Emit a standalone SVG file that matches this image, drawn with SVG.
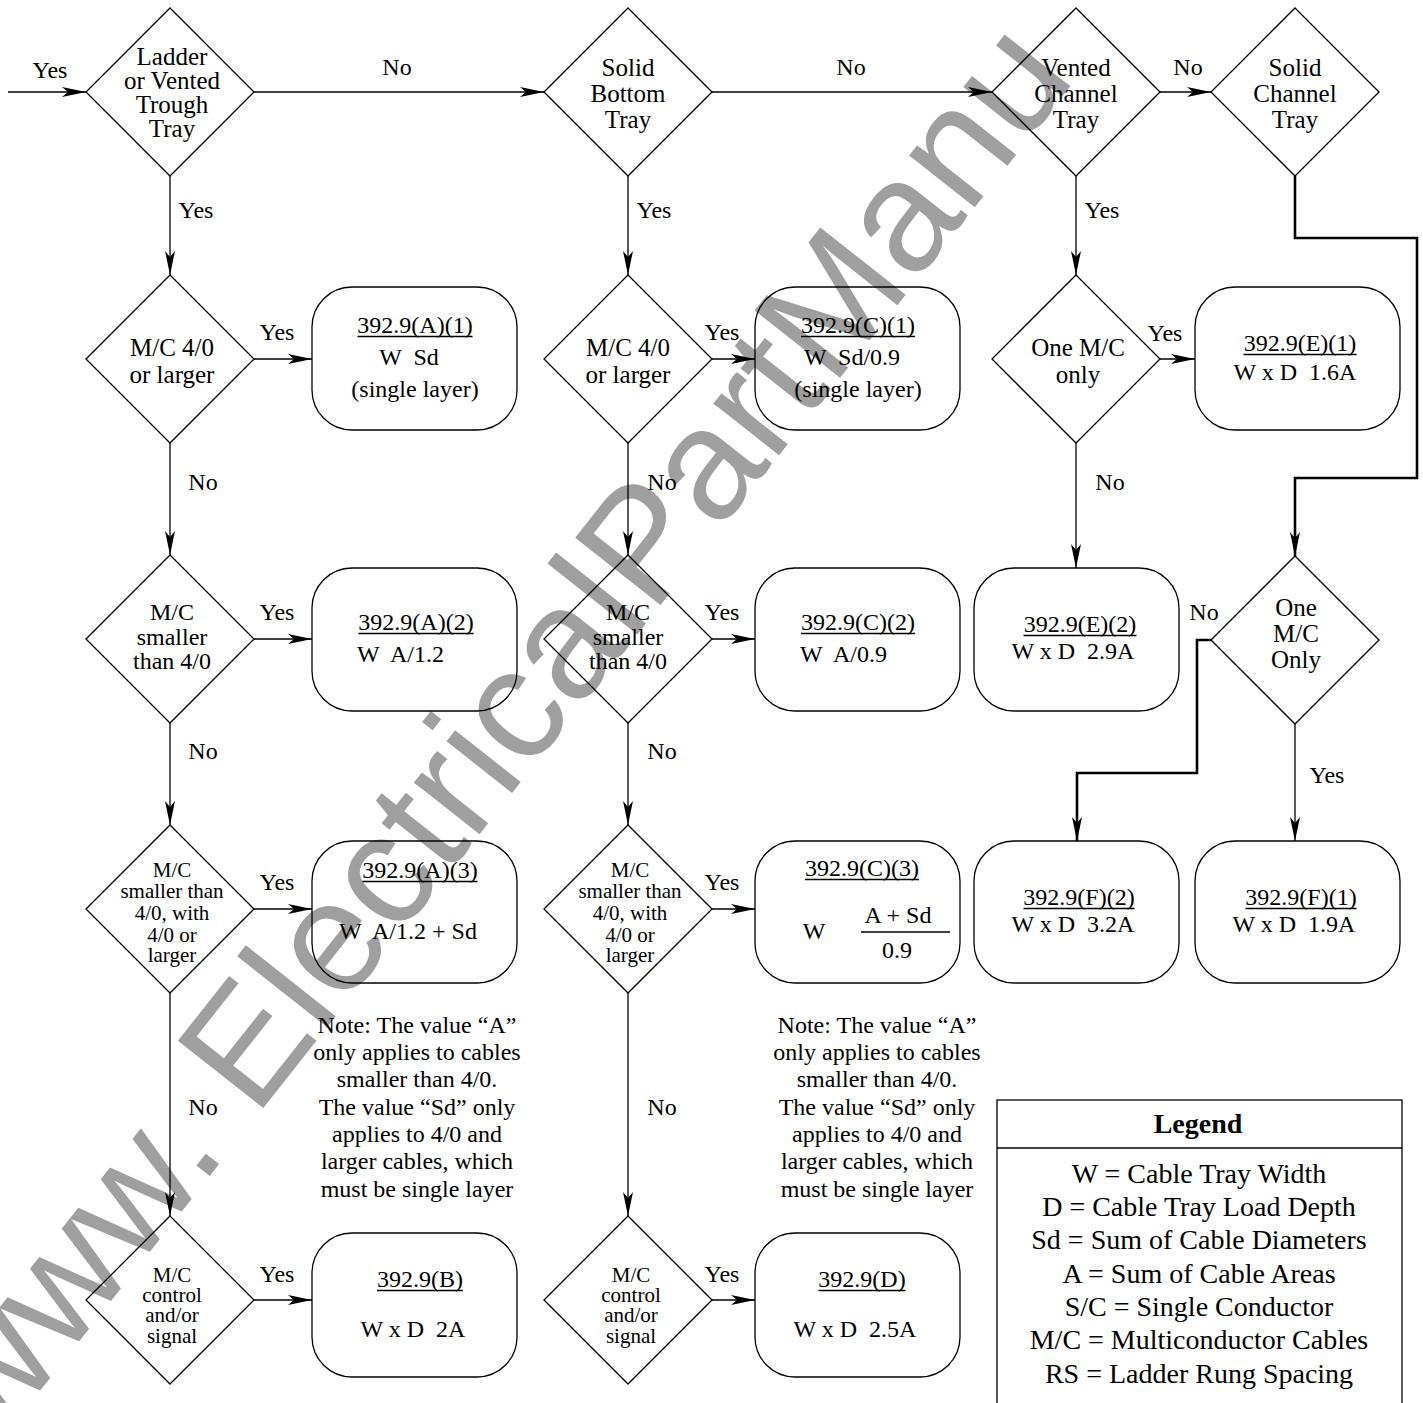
<svg xmlns="http://www.w3.org/2000/svg" width="1423" height="1403" viewBox="0 0 1423 1403">
<style>
.t{font-family:"Liberation Serif","Times New Roman",serif;font-size:24px;fill:#000;text-anchor:middle;white-space:pre}
.d{font-size:25px}
.s{font-size:21px}
.st{text-anchor:start}
.lg{font-size:28px}
.b{font-weight:bold}
.node{fill:none;stroke:#000;stroke-width:1.3}
.c{fill:none;stroke:#000;stroke-width:1.3}
.ct{stroke-width:2.6}
.ul{stroke:#000;stroke-width:1.5}
.wm{font-family:"Liberation Sans",Arial,sans-serif;font-size:158px;fill:#9f9f9f}
</style>
<defs>
<marker id="ah" viewBox="0 0 24 10" refX="24" refY="5" markerWidth="24" markerHeight="10" markerUnits="userSpaceOnUse" orient="auto">
<path d="M0,0 L24,5 L0,10 L6,5 Z" fill="#000"/>
</marker>
</defs>
<rect width="1423" height="1403" fill="#fff"/>
<g id="watermark">
<text class="wm" transform="translate(-6,1449) rotate(-51.7)">www. ElectricalPartManu</text>
</g>
<g id="connectors">
<path class="c" d="M8,92 H86" marker-end="url(#ah)"/>
<path class="c" d="M254,92 H544" marker-end="url(#ah)"/>
<path class="c" d="M712,92 H992" marker-end="url(#ah)"/>
<path class="c" d="M1160,92 H1211" marker-end="url(#ah)"/>
<path class="c" d="M170,176 V275" marker-end="url(#ah)"/>
<path class="c" d="M170,443 V555" marker-end="url(#ah)"/>
<path class="c" d="M170,723 V825" marker-end="url(#ah)"/>
<path class="c" d="M170,993 V1216" marker-end="url(#ah)"/>
<path class="c" d="M254,359 H312" marker-end="url(#ah)"/>
<path class="c" d="M254,639 H312" marker-end="url(#ah)"/>
<path class="c" d="M254,909 H312" marker-end="url(#ah)"/>
<path class="c" d="M254,1300 H312" marker-end="url(#ah)"/>
<path class="c" d="M628,176 V275" marker-end="url(#ah)"/>
<path class="c" d="M628,443 V555" marker-end="url(#ah)"/>
<path class="c" d="M628,723 V825" marker-end="url(#ah)"/>
<path class="c" d="M628,993 V1216" marker-end="url(#ah)"/>
<path class="c" d="M712,359 H755" marker-end="url(#ah)"/>
<path class="c" d="M712,639 H755" marker-end="url(#ah)"/>
<path class="c" d="M712,909 H755" marker-end="url(#ah)"/>
<path class="c" d="M712,1300 H755" marker-end="url(#ah)"/>
<path class="c" d="M1076,176 V275" marker-end="url(#ah)"/>
<path class="c" d="M1160,359 H1195" marker-end="url(#ah)"/>
<path class="c" d="M1076,443 V568" marker-end="url(#ah)"/>
<path class="c ct" d="M1295,176 V238 H1417 V478 H1295 V556" marker-end="url(#ah)"/>
<path class="c" d="M1295,724 V841" marker-end="url(#ah)"/>
<path class="c ct" d="M1211,640 H1197 V773 H1077 V841" marker-end="url(#ah)"/>
<g id="connector-labels">
<text class="t" x="50" y="78">Yes</text>
<text class="t" x="397" y="75">No</text>
<text class="t" x="851" y="75">No</text>
<text class="t" x="1188" y="75">No</text>
<text class="t" x="196" y="218">Yes</text>
<text class="t" x="654" y="218">Yes</text>
<text class="t" x="1102" y="218">Yes</text>
<text class="t" x="277" y="340">Yes</text>
<text class="t" x="722" y="340">Yes</text>
<text class="t" x="1165" y="341">Yes</text>
<text class="t" x="203" y="490">No</text>
<text class="t" x="662" y="490">No</text>
<text class="t" x="1110" y="490">No</text>
<text class="t" x="277" y="620">Yes</text>
<text class="t" x="722" y="620">Yes</text>
<text class="t" x="1204" y="620">No</text>
<text class="t" x="203" y="759">No</text>
<text class="t" x="662" y="759">No</text>
<text class="t" x="1327" y="783">Yes</text>
<text class="t" x="277" y="890">Yes</text>
<text class="t" x="722" y="890">Yes</text>
<text class="t" x="203" y="1115">No</text>
<text class="t" x="662" y="1115">No</text>
<text class="t" x="277" y="1282">Yes</text>
<text class="t" x="722" y="1282">Yes</text>
</g>
</g>
<g id="d-ladder">
<path class="node" d="M170,8 L254,92 L170,176 L86,92 Z"/>
<text class="t d" x="172" y="65">Ladder</text>
<text class="t d" x="172" y="89">or Vented</text>
<text class="t d" x="172" y="113">Trough</text>
<text class="t d" x="172" y="137">Tray</text>
</g>
<g id="d-solid-bottom">
<path class="node" d="M628,8 L712,92 L628,176 L544,92 Z"/>
<text class="t d" x="628" y="76">Solid</text>
<text class="t d" x="628" y="102">Bottom</text>
<text class="t d" x="628" y="128">Tray</text>
</g>
<g id="d-vented-channel">
<path class="node" d="M1076,8 L1160,92 L1076,176 L992,92 Z"/>
<text class="t d" x="1076" y="76">Vented</text>
<text class="t d" x="1076" y="102">Channel</text>
<text class="t d" x="1076" y="128">Tray</text>
</g>
<g id="d-solid-channel">
<path class="node" d="M1295,8 L1379,92 L1295,176 L1211,92 Z"/>
<text class="t d" x="1295" y="76">Solid</text>
<text class="t d" x="1295" y="102">Channel</text>
<text class="t d" x="1295" y="128">Tray</text>
</g>
<g id="d-a1">
<path class="node" d="M170,275 L254,359 L170,443 L86,359 Z"/>
<text class="t d" x="172" y="356">M/C 4/0</text>
<text class="t d" x="172" y="383">or larger</text>
</g>
<g id="d-c1">
<path class="node" d="M628,275 L712,359 L628,443 L544,359 Z"/>
<text class="t d" x="628" y="356">M/C 4/0</text>
<text class="t d" x="628" y="383">or larger</text>
</g>
<g id="d-e1">
<path class="node" d="M1076,275 L1160,359 L1076,443 L992,359 Z"/>
<text class="t d" x="1078" y="356">One M/C</text>
<text class="t d" x="1078" y="383">only</text>
</g>
<g id="d-a2">
<path class="node" d="M170,555 L254,639 L170,723 L86,639 Z"/>
<text class="t" x="172" y="620">M/C</text>
<text class="t" x="172" y="645">smaller</text>
<text class="t" x="172" y="669">than 4/0</text>
</g>
<g id="d-c2">
<path class="node" d="M628,555 L712,639 L628,723 L544,639 Z"/>
<text class="t" x="628" y="620">M/C</text>
<text class="t" x="628" y="645">smaller</text>
<text class="t" x="628" y="669">than 4/0</text>
</g>
<g id="d-f">
<path class="node" d="M1295,556 L1379,640 L1295,724 L1211,640 Z"/>
<text class="t d" x="1296" y="616">One</text>
<text class="t d" x="1296" y="642">M/C</text>
<text class="t d" x="1296" y="668">Only</text>
</g>
<g id="d-a3">
<path class="node" d="M170,825 L254,909 L170,993 L86,909 Z"/>
<text class="t s" x="172" y="877">M/C</text>
<text class="t s" x="172" y="898">smaller than</text>
<text class="t s" x="172" y="920">4/0, with</text>
<text class="t s" x="172" y="942">4/0 or</text>
<text class="t s" x="172" y="962">larger</text>
</g>
<g id="d-c3">
<path class="node" d="M628,825 L712,909 L628,993 L544,909 Z"/>
<text class="t s" x="630" y="877">M/C</text>
<text class="t s" x="630" y="898">smaller than</text>
<text class="t s" x="630" y="920">4/0, with</text>
<text class="t s" x="630" y="942">4/0 or</text>
<text class="t s" x="630" y="962">larger</text>
</g>
<g id="d-b">
<path class="node" d="M170,1216 L254,1300 L170,1384 L86,1300 Z"/>
<text class="t s" x="172" y="1282">M/C</text>
<text class="t s" x="172" y="1302">control</text>
<text class="t s" x="172" y="1322">and/or</text>
<text class="t s" x="172" y="1343">signal</text>
</g>
<g id="d-d">
<path class="node" d="M628,1216 L712,1300 L628,1384 L544,1300 Z"/>
<text class="t s" x="631" y="1282">M/C</text>
<text class="t s" x="631" y="1302">control</text>
<text class="t s" x="631" y="1322">and/or</text>
<text class="t s" x="631" y="1343">signal</text>
</g>
<g id="b-a1">
<rect class="node" x="312" y="287" width="205" height="143" rx="40"/>
<text class="t" x="415" y="333">392.9(A)(1)</text>
<line class="ul" x1="357.5" y1="336.5" x2="472.5" y2="336.5"/>
<text class="t" x="409" y="365">W  Sd</text>
<text class="t" x="415" y="397">(single layer)</text>
</g>
<g id="b-c1">
<rect class="node" x="755" y="287" width="205" height="143" rx="40"/>
<text class="t" x="858" y="333">392.9(C)(1)</text>
<line class="ul" x1="801" y1="336.5" x2="915" y2="336.5"/>
<text class="t" x="852" y="365">W  Sd/0.9</text>
<text class="t" x="858" y="397">(single layer)</text>
</g>
<g id="b-e1">
<rect class="node" x="1195" y="287" width="205" height="143" rx="40"/>
<text class="t" x="1300" y="351">392.9(E)(1)</text>
<line class="ul" x1="1243.5" y1="354.5" x2="1356.5" y2="354.5"/>
<text class="t" x="1295" y="380">W x D  1.6A</text>
</g>
<g id="b-a2">
<rect class="node" x="312" y="568" width="205" height="143" rx="40"/>
<text class="t" x="416" y="630">392.9(A)(2)</text>
<line class="ul" x1="358.5" y1="633.5" x2="473.5" y2="633.5"/>
<text class="t st" x="357" y="662">W  A/1.2</text>
</g>
<g id="b-c2">
<rect class="node" x="755" y="568" width="205" height="143" rx="40"/>
<text class="t" x="858" y="630">392.9(C)(2)</text>
<line class="ul" x1="801" y1="633.5" x2="915" y2="633.5"/>
<text class="t st" x="800" y="662">W  A/0.9</text>
</g>
<g id="b-e2">
<rect class="node" x="974" y="568" width="205" height="143" rx="40"/>
<text class="t" x="1080" y="632">392.9(E)(2)</text>
<line class="ul" x1="1023.5" y1="635.5" x2="1136.5" y2="635.5"/>
<text class="t" x="1073" y="659">W x D  2.9A</text>
</g>
<g id="b-a3">
<rect class="node" x="312" y="841" width="205" height="142" rx="40"/>
<text class="t" x="420" y="878">392.9(A)(3)</text>
<line class="ul" x1="362.5" y1="881.5" x2="477.5" y2="881.5"/>
<text class="t" x="408" y="939">W  A/1.2 + Sd</text>
</g>
<g id="b-c3">
<rect class="node" x="755" y="841" width="205" height="142" rx="40"/>
<text class="t" x="862" y="876">392.9(C)(3)</text>
<line class="ul" x1="805" y1="879.5" x2="919" y2="879.5"/>
<text class="t" x="814" y="939">W</text>
<text class="t" x="898" y="923">A + Sd</text>
<line class="c" x1="861" y1="932" x2="950" y2="932"/>
<text class="t" x="897" y="958">0.9</text>
</g>
<g id="b-f2">
<rect class="node" x="974" y="841" width="205" height="142" rx="40"/>
<text class="t" x="1079" y="905">392.9(F)(2)</text>
<line class="ul" x1="1023.5" y1="908.5" x2="1134.5" y2="908.5"/>
<text class="t" x="1073" y="932">W x D  3.2A</text>
</g>
<g id="b-f1">
<rect class="node" x="1195" y="841" width="205" height="142" rx="40"/>
<text class="t" x="1301" y="905">392.9(F)(1)</text>
<line class="ul" x1="1245.5" y1="908.5" x2="1356.5" y2="908.5"/>
<text class="t" x="1294" y="932">W x D  1.9A</text>
</g>
<g id="b-b">
<rect class="node" x="312" y="1233" width="205" height="144" rx="40"/>
<text class="t" x="420" y="1287">392.9(B)</text>
<line class="ul" x1="377" y1="1290.5" x2="463" y2="1290.5"/>
<text class="t" x="413" y="1337">W x D  2A</text>
</g>
<g id="b-d">
<rect class="node" x="755" y="1233" width="205" height="144" rx="40"/>
<text class="t" x="862" y="1287">392.9(D)</text>
<line class="ul" x1="818.5" y1="1290.5" x2="905.5" y2="1290.5"/>
<text class="t" x="855" y="1337">W x D  2.5A</text>
</g>
<g id="note-1">
<text class="t" x="417" y="1033">Note: The value “A”</text>
<text class="t" x="417" y="1060">only applies to cables</text>
<text class="t" x="417" y="1087">smaller than 4/0.</text>
<text class="t" x="417" y="1115">The value “Sd” only</text>
<text class="t" x="417" y="1142">applies to 4/0 and</text>
<text class="t" x="417" y="1169">larger cables, which</text>
<text class="t" x="417" y="1197">must be single layer</text>
</g>
<g id="note-2">
<text class="t" x="877" y="1033">Note: The value “A”</text>
<text class="t" x="877" y="1060">only applies to cables</text>
<text class="t" x="877" y="1087">smaller than 4/0.</text>
<text class="t" x="877" y="1115">The value “Sd” only</text>
<text class="t" x="877" y="1142">applies to 4/0 and</text>
<text class="t" x="877" y="1169">larger cables, which</text>
<text class="t" x="877" y="1197">must be single layer</text>
</g>
<g id="legend">
<rect class="node" x="997" y="1100" width="405" height="330"/>
<line class="node" x1="997" y1="1148" x2="1402" y2="1148"/>
<text class="t lg b" x="1198" y="1133">Legend</text>
<text class="t lg" x="1199" y="1183">W = Cable Tray Width</text>
<text class="t lg" x="1199" y="1216">D = Cable Tray Load Depth</text>
<text class="t lg" x="1199" y="1249">Sd = Sum of Cable Diameters</text>
<text class="t lg" x="1199" y="1283">A = Sum of Cable Areas</text>
<text class="t lg" x="1199" y="1316">S/C = Single Conductor</text>
<text class="t lg" x="1199" y="1349">M/C = Multiconductor Cables</text>
<text class="t lg" x="1199" y="1383">RS = Ladder Rung Spacing</text>
</g>
</svg>
